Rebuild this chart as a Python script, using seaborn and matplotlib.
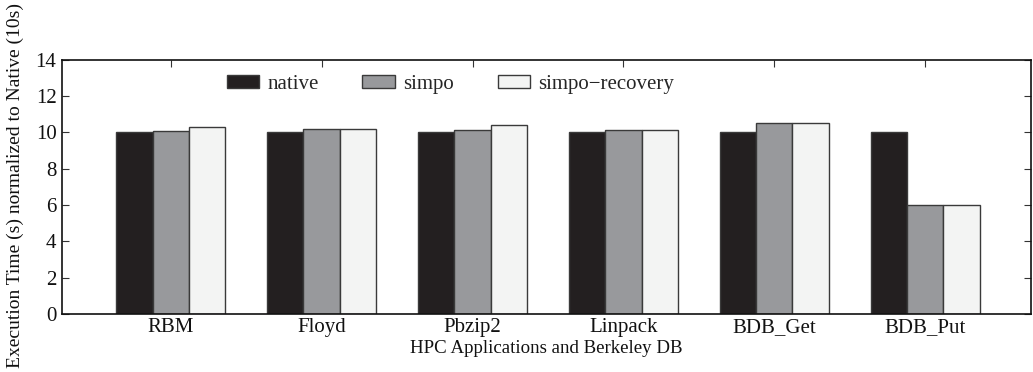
import matplotlib
matplotlib.use("Agg")
import matplotlib.pyplot as plt
import seaborn as sns
import pandas as pd

categories = ["RBM", "Floyd", "Pbzip2", "Linpack", "BDB_Get", "BDB_Put"]
native = [10.0, 10.0, 10.0, 10.0, 10.0, 10.0]
simpo = [10.1, 10.2, 10.15, 10.12, 10.5, 6.0]
simpo_recovery = [10.3, 10.2, 10.4, 10.12, 10.55, 6.0]
series_names = ["native", "simpo", "simpo\u2212recovery"]
colors = ["#231f20", "#98999c", "#f3f4f3"]

rows = []
for name, vals in zip(series_names, [native, simpo, simpo_recovery]):
    for c, v in zip(categories, vals):
        rows.append({"app": c, "series": name, "value": v})
df = pd.DataFrame(rows)

sns.set_theme(style="white")
plt.rcParams["font.family"] = ["Liberation Serif", "DejaVu Serif"]

fig = plt.figure(figsize=(10.33, 3.72), dpi=100)
ax = fig.add_axes([0.060, 0.156, 0.938, 0.683])
sns.barplot(data=df, x="app", y="value", hue="series", order=categories,
            hue_order=series_names, palette=colors, width=0.72, gap=0,
            edgecolor="#3a3a3a", linewidth=1.0, saturation=1, ax=ax, errorbar=None)

ax.set_ylim(0, 14)
ax.set_yticks(range(0, 15, 2))
ax.set_xlim(-0.72, 5.70)
ax.set_xlabel("HPC Applications and Berkeley DB", fontsize=13.6, color="#111111", labelpad=2)
ax.set_ylabel("Execution Time (s) normalized to Native (10s)", fontsize=14.0, color="#111111")
ax.yaxis.set_label_coords(24 / 1033, 0.5, transform=fig.transFigure)
ax.tick_params(axis="both", direction="in", length=5, width=0.8, color="#333333",
               labelsize=15, labelcolor="#111111", top=True, right=True,
               left=True, bottom=True)
ax.tick_params(axis="x", which="both", top=True, bottom=False, length=5, direction="in", pad=3)
ax.tick_params(axis="y", pad=4)
for s in ax.spines.values():
    s.set_color("#111111")
    s.set_linewidth(1.2)

leg = ax.legend(loc="center left", bbox_to_anchor=(0.17, 0.905), ncol=3, frameon=False,
                fontsize=15, handlelength=1.55, handleheight=0.6, columnspacing=2.1,
                handletextpad=0.4, borderaxespad=0, borderpad=0)
plt.savefig("out.png", dpi=100)
